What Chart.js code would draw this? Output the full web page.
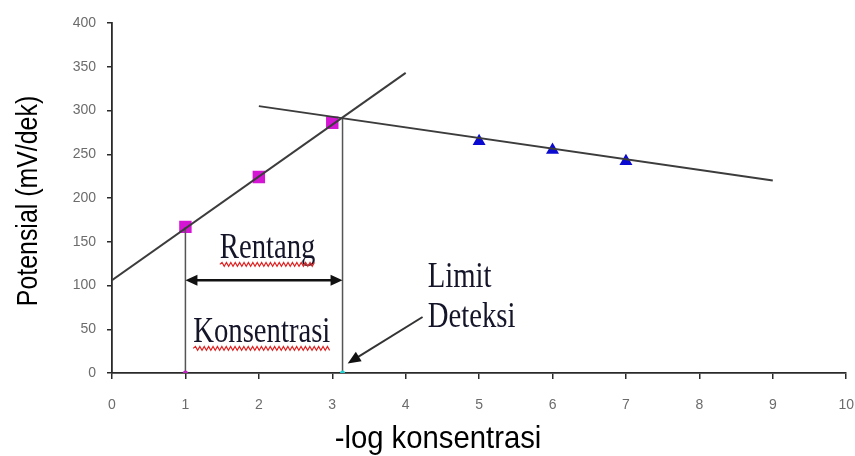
<!DOCTYPE html>
<html>
<head>
<meta charset="utf-8">
<script src="https://cdn.jsdelivr.net/npm/chart.js@4.4.1/dist/chart.umd.min.js"></script>
<style>
  html, body { margin: 0; padding: 0; background: #ffffff; }
  #wrap { width: 855px; height: 456px; position: relative; }
</style>
</head>
<body>
<div id="wrap"><canvas id="c" width="855" height="456"></canvas></div>
<script>
// ---- data ----
const xTicks = [0, 1, 2, 3, 4, 5, 6, 7, 8, 9, 10];
const yTicks = [0, 50, 100, 150, 200, 250, 300, 350, 400];

const rangeX = [1, 2, 3];            // linear-range measurements (magenta squares)
const rangeY = [167, 224, 286];
const plateauX = [5, 6, 7];          // below-limit measurements (blue triangles)
const plateauY = [265, 255, 242];

const fitRiseX = [0, 4];             // rising fitted line
const fitRiseY = [106, 343];
const fitFlatX = [2, 9];             // flat fitted line
const fitFlatY = [305, 220];

const lowerBoundX = [1, 1];          // vertical line at start of range
const lowerBoundY = [0, 167];
const limitX = [3.14, 3.14];         // vertical line at detection limit
const limitY = [0, 291];

// annotation anchors (data coordinates, y = text baseline)
const rangeArrowX = [1, 3.14];
const rangeArrowY = 106;
const limitArrowX = [4.23, 3.21];
const limitArrowY = [64, 11];
const labels = [
  { text: 'Rentang',     x: 2.12, y: 131, align: 'center', wavy: true },
  { text: 'Konsentrasi', x: 2.04, y: 35,  align: 'center', wavy: true },
  { text: 'Limit',       x: 4.30, y: 98,  align: 'left',   wavy: false },
  { text: 'Deteksi',     x: 4.30, y: 53,  align: 'left',   wavy: false }
];
const xTitle = '-log konsentrasi';
const yTitle = 'Potensial (mV/dek)';

const toPts = (xs, ys) => xs.map((v, i) => ({ x: v, y: ys[i] }));

function arrowHead(ctx, x0, y0, x1, y1, len, half) {
  const a = Math.atan2(y1 - y0, x1 - x0);
  ctx.beginPath();
  ctx.moveTo(x1, y1);
  ctx.lineTo(x1 - len * Math.cos(a) + half * Math.sin(a), y1 - len * Math.sin(a) - half * Math.cos(a));
  ctx.lineTo(x1 - len * Math.cos(a) - half * Math.sin(a), y1 - len * Math.sin(a) + half * Math.cos(a));
  ctx.closePath();
  ctx.fill();
}

function wavyLine(ctx, xa, xb, yy) {
  ctx.beginPath();
  let up = true;
  ctx.moveTo(xa, yy);
  for (let xx = xa + 2.2; xx <= xb; xx += 2.2) {
    ctx.lineTo(xx, yy + (up ? -2 : 2));
    up = !up;
  }
  ctx.stroke();
}

// draws text with a horizontal squeeze (the reference is stretched vertically)
function squeezedText(ctx, text, x, y, sx, align, rot) {
  ctx.save();
  ctx.translate(x, y);
  if (rot) ctx.rotate(rot);
  ctx.scale(sx, 1);
  ctx.textAlign = align;
  ctx.fillText(text, 0, 0);
  const w = ctx.measureText(text).width * sx;
  ctx.restore();
  return w;
}

const notesPlugin = {
  id: 'notes',
  afterDatasetsDraw(chart) {
    const { ctx, scales: { x, y } } = chart;
    const px = v => x.getPixelForValue(v);
    const py = v => y.getPixelForValue(v);
    ctx.save();
    // double-headed range arrow
    ctx.strokeStyle = '#111';
    ctx.fillStyle = '#111';
    ctx.lineWidth = 2.5;
    const ax0 = px(rangeArrowX[0]), ax1 = px(rangeArrowX[1]), ay = py(rangeArrowY);
    ctx.beginPath();
    ctx.moveTo(ax0 + 6, ay);
    ctx.lineTo(ax1 - 6, ay);
    ctx.stroke();
    arrowHead(ctx, ax1, ay, ax0, ay, 12, 5.5);
    arrowHead(ctx, ax0, ay, ax1, ay, 12, 5.5);
    // detection-limit arrow
    const lx0 = px(limitArrowX[0]), ly0 = py(limitArrowY[0]);
    const lx1 = px(limitArrowX[1]), ly1 = py(limitArrowY[1]);
    ctx.lineWidth = 2;
    ctx.strokeStyle = '#333';
    ctx.beginPath();
    const ang = Math.atan2(ly1 - ly0, lx1 - lx0);
    ctx.moveTo(lx0, ly0);
    ctx.lineTo(lx1 - 9 * Math.cos(ang), ly1 - 9 * Math.sin(ang));
    ctx.stroke();
    arrowHead(ctx, lx0, ly0, lx1, ly1, 13, 5.5);
    // labels
    ctx.font = '35px "Liberation Serif", "Times New Roman", serif';
    ctx.textBaseline = 'alphabetic';
    labels.forEach(l => {
      ctx.fillStyle = '#15152a';
      const tx = px(l.x), ty = py(l.y);
      const w = squeezedText(ctx, l.text, tx, ty, 0.82, l.align, 0);
      if (l.wavy) {
        const xa = l.align === 'center' ? tx - w / 2 : tx;
        ctx.strokeStyle = '#e02424';
        ctx.lineWidth = 1.2;
        wavyLine(ctx, xa, xa + w, ty + 6);
      }
    });
    // axis titles
    ctx.fillStyle = '#000';
    ctx.font = '32px "Liberation Sans", Arial, sans-serif';
    squeezedText(ctx, xTitle, 438, 448, 0.915, 'center', 0);
    ctx.font = '30px "Liberation Sans", Arial, sans-serif';
    squeezedText(ctx, yTitle, 37, 201, 0.83, 'center', -Math.PI / 2);
    ctx.restore();
  }
};

const lineStyle = (color, width) => ({
  type: 'scatter', showLine: true, borderColor: color, borderWidth: width,
  pointRadius: 0, pointHoverRadius: 0, fill: false
});

new Chart(document.getElementById('c'), {
  type: 'scatter',
  data: {
    datasets: [
      Object.assign({ label: 'fit naik', data: toPts(fitRiseX, fitRiseY) }, lineStyle('#3c3c3c', 2)),
      Object.assign({ label: 'fit datar', data: toPts(fitFlatX, fitFlatY) }, lineStyle('#3c3c3c', 2)),
      Object.assign({ label: 'batas bawah', data: toPts(lowerBoundX, lowerBoundY) }, lineStyle('#555', 1.5),
        { pointRadius: [2.5, 0], pointBackgroundColor: '#c020c0', pointBorderWidth: 0 }),
      Object.assign({ label: 'limit deteksi', data: toPts(limitX, limitY) }, lineStyle('#555', 1.5),
        { pointRadius: [2.5, 0], pointBackgroundColor: '#20d0d0', pointBorderWidth: 0 }),
      { label: 'rentang', data: toPts(rangeX, rangeY), pointStyle: 'rect', pointRadius: 8.8,
        backgroundColor: '#d416d4', borderColor: '#d416d4', borderWidth: 0 },
      { label: 'di bawah limit', data: toPts(plateauX, plateauY), pointStyle: 'triangle', pointRadius: 7.5,
        backgroundColor: '#0a0ad0', borderColor: '#0a0ad0', borderWidth: 0 }
    ]
  },
  options: {
    responsive: false,
    animation: false,
    events: [],
    layout: { padding: { left: 0, top: 23, right: 8, bottom: 0 } },
    plugins: { legend: { display: false }, tooltip: { enabled: false } },
    scales: {
      x: {
        type: 'linear', min: 0, max: 10,
        afterBuildTicks: s => { s.ticks = xTicks.map(v => ({ value: v })); },
        afterFit: s => { s.height = 83; s.paddingRight = 0; s.paddingLeft = 0; },
        ticks: { color: '#6c6c6c', padding: 18, font: { family: '"Liberation Sans", Arial, sans-serif', size: 14 } },
        grid: { display: true, drawOnChartArea: false, drawTicks: true, tickLength: 6, color: '#2a2a2a', lineWidth: 1.5 },
        border: { display: true, color: '#2a2a2a', width: 1.8 },
        title: { display: false }
      },
      y: {
        type: 'linear', min: 0, max: 400,
        afterBuildTicks: s => { s.ticks = yTicks.map(v => ({ value: v })); },
        afterFit: s => { s.width = 112; },
        ticks: { color: '#6c6c6c', padding: 11, font: { family: '"Liberation Sans", Arial, sans-serif', size: 14 } },
        grid: { display: true, drawOnChartArea: false, drawTicks: true, tickLength: 5, color: '#2a2a2a', lineWidth: 1.5 },
        border: { display: true, color: '#2a2a2a', width: 1.8 },
        title: { display: false }
      }
    }
  },
  plugins: [notesPlugin]
});
</script>
</body>
</html>
